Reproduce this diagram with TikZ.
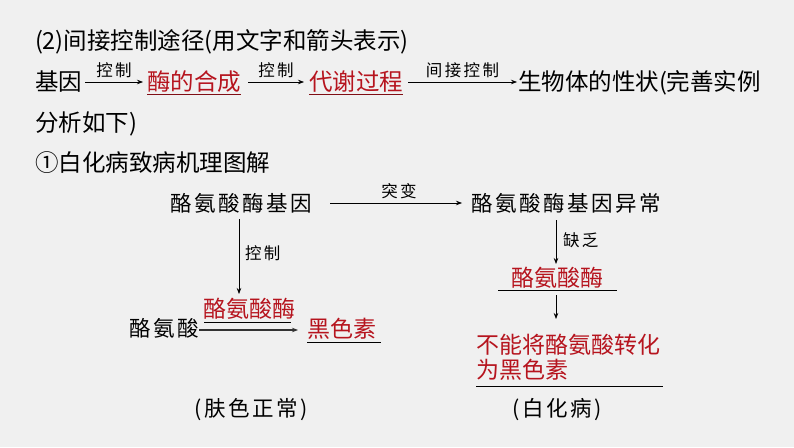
\documentclass[tikz,border=0pt]{standalone}
\usepackage{fontspec}
\setmainfont{Noto Sans CJK SC}
\usetikzlibrary{arrows.meta}
\definecolor{bg}{RGB}{240,240,240}
\definecolor{dred}{RGB}{182,20,30}
\begin{document}
\begin{tikzpicture}[x=1pt,y=-1pt,
 every node/.style={inner sep=0pt, outer sep=0pt},
 big/.style={font=\fontsize{23.5}{26}\selectfont},
 redtxt/.style={text=dred},
 lbl/.style={font=\fontsize{16.5}{18}\selectfont\addfontfeature{LetterSpace=15}},
 dg/.style={font=\fontsize{21.5}{24}\selectfont\addfontfeature{LetterSpace=12}},
 dr/.style={font=\fontsize{23}{25}\selectfont, text=dred},
 arr/.style={-{Stealth[length=6pt,width=4.5pt]}, line width=0.7pt},
 redline/.style={draw=dred!70!black, line width=0.9pt},
 blkline/.style={draw=black, line width=0.9pt}]
\fill[bg] (0,0) rectangle (794,447);
\useasboundingbox (0,0) rectangle (794,447);

% top text
\node[big, anchor=west] (t1) at (35,42) {(2)间接控制途径(用文字和箭头表示)};
\node[big, anchor=west] (gene) at (35,82) {基因};
\node[big, redtxt, anchor=west] (enz) at (147,82) {酶的合成};
\node[big, redtxt, anchor=west] (meta) at (309,82) {代谢过程};
\node[big, anchor=west] (trait) at (518,83) {生物体的性状(完善实例};
\node[big, anchor=west] (t3) at (35,124) {分析如下)};
\node[big, anchor=west] (t4) at (35,163) {①白化病致病机理图解};

\draw[redline] ([yshift=-2pt]enz.south west) -- ([yshift=-2pt]enz.south east);
\draw[redline] ([yshift=-2pt]meta.south west) -- ([yshift=-2pt]meta.south east);

\coordinate (a1s) at (85,82);
\coordinate (a1e) at (143,82);
\coordinate (a2s) at (248,82);
\coordinate (a2e) at (304,82);
\coordinate (a3s) at (408,82);
\coordinate (a3e) at (517,82);
\draw[arr] (a1s) -- (a1e) node[lbl, midway, above=4pt] (l1) {控制};
\draw[arr] (a2s) -- (a2e) node[lbl, midway, above=4pt] (l2) {控制};
\draw[arr] (a3s) -- (a3e) node[lbl, midway, above=4pt] (l3) {间接控制};

% diagram
\node[dg] (g1) at (241,203) {酪氨酸酶基因};
\node[dg, anchor=west] (g2) at (471,203) {酪氨酸酶基因异常};
\coordinate (mS) at (330,203);
\coordinate (mE) at (462,203);
\draw[arr] (mS) -- (mE);
\node[lbl] (mut) at (399,191) {突变};

\coordinate (c1s) at (239,219);
\coordinate (c1e) at (239,294);
\draw[arr] (c1s) -- (c1e);
\node[lbl, anchor=west] (ctl) at (245,253) {控制};

\node[dg, anchor=east] (tyr) at (199,328) {酪氨酸};
\node[dr] (e1) at (249,309) {酪氨酸酶};
\node[dr, anchor=west] (mel) at (307,329) {黑色素};
\coordinate (tE) at (298,330);
\draw[-{Stealth[length=6pt,width=4.5pt]}, line width=1.3pt, black!80] (tyr.east |- tE) -- (tE);
\draw[blkline] (204,322) -- (291,322);
\draw[blkline] (307,342) -- (381,342);

\coordinate (d1s) at (556,220);
\coordinate (d1e) at (556,264);
\draw[arr] (d1s) -- (d1e);
\node[lbl, anchor=west] (lack) at (563,240) {缺乏};
\node[dr] (e2) at (557,278) {酪氨酸酶};
\draw[blkline] (498,290) -- (617,290);
\coordinate (d2s) at (556,295);
\coordinate (d2e) at (556,319);
\draw[arr] (d2s) -- (d2e);
\node[dr, anchor=west] (r1) at (476,345) {不能将酪氨酸转化};
\node[dr, anchor=west] (r2) at (476,370) {为黑色素};
\draw[blkline] (476,386) -- (663,386);

\node[dg] (n1) at (251,410) {(肤色正常)};
\node[dg] (n2) at (557,410) {(白化病)};
\end{tikzpicture}
\end{document}
